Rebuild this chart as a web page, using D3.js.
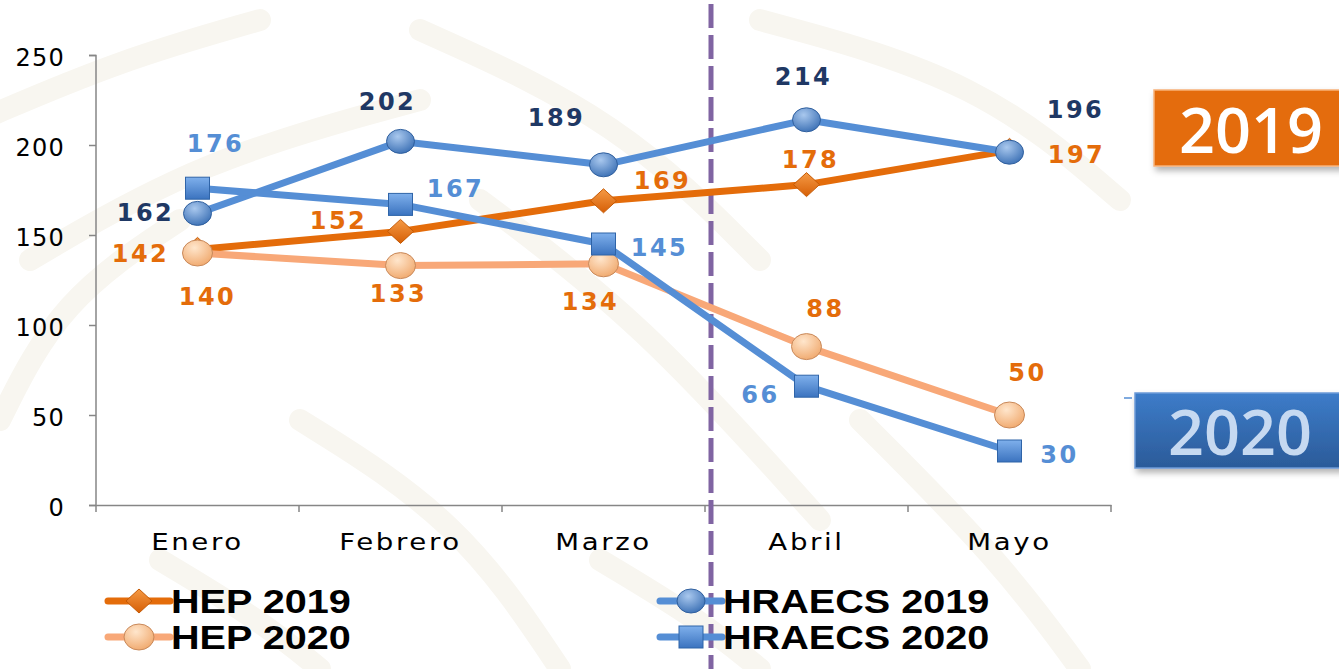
<!DOCTYPE html>
<html lang="es">
  <head>
    <meta charset="UTF-8" />
    <title>HEP / HRAECS 2019 vs 2020</title>
    <style>
      html, body { margin: 0; padding: 0; background: #ffffff; }
      svg { display: block; }
    </style>
    <script src="https://cdn.jsdelivr.net/npm/d3@7/dist/d3.min.js"></script>
  </head>
  <body>
    <script>
      const months = ["Enero", "Febrero", "Marzo", "Abril", "Mayo"];
      const hep2019 = [142, 152, 169, 178, 197];
      const hep2020 = [140, 133, 134, 88, 50];
      const hraecs2019 = [162, 202, 189, 214, 196];
      const hraecs2020 = [176, 167, 145, 66, 30];
      const yTicks = [0, 50, 100, 150, 200, 250];

      const W = 1339, H = 669;
      const svg = d3.select(document.body).append("svg")
        .attr("width", W).attr("height", H);
      const defs = svg.append("defs");

      // marker gradients
      const radial = (id, c0, c1) => {
        const g = defs.append("radialGradient").attr("id", id)
          .attr("cx", "40%").attr("cy", "30%").attr("r", "75%");
        g.append("stop").attr("offset", "0%").attr("stop-color", c0);
        g.append("stop").attr("offset", "100%").attr("stop-color", c1);
      };
      radial("gBlueBall", "#a9c8ee", "#3a6fb4");
      radial("gPeach", "#ffe6cc", "#f0a86c");
      const linear = (id, c0, c1) => {
        const g = defs.append("linearGradient").attr("id", id)
          .attr("x1", 0).attr("y1", 0).attr("x2", 0).attr("y2", 1);
        g.append("stop").attr("offset", "0%").attr("stop-color", c0);
        g.append("stop").attr("offset", "100%").attr("stop-color", c1);
      };
      linear("gSquare", "#7fb0ec", "#3b73bf");
      linear("gDiamond", "#f59a45", "#d65f06");
      linear("gBox2020", "#3d7cc9", "#2b5b99");
      const sh = defs.append("filter").attr("id", "shadow")
        .attr("x", "-10%").attr("y", "-10%").attr("width", "130%").attr("height", "140%");
      sh.append("feDropShadow").attr("dx", 2).attr("dy", 4)
        .attr("stdDeviation", 3).attr("flood-color", "#000").attr("flood-opacity", 0.3);

      // faint watermark strokes in the background
      const bg = svg.append("g").attr("fill", "none").attr("stroke", "#f8f6f0")
        .attr("stroke-linecap", "round");
      const wm = [
        [[-20, 120], [120, 60], [260, 20]], [[30, 260], [200, 160], [420, 100]],
        [[0, 420], [60, 300], [180, 220]], [[420, 30], [620, 120], [760, 260]],
        [[480, 200], [640, 320], [820, 520]], [[300, 420], [460, 520], [560, 669]],
        [[760, 20], [980, 80], [1120, 200]], [[860, 420], [1000, 560], [1080, 669]],
        [[160, 560], [260, 620], [320, 669]], [[600, 560], [700, 620], [760, 669]]
      ];
      bg.selectAll("path").data(wm).join("path")
        .attr("stroke-width", 22)
        .attr("d", d3.line().curve(d3.curveBasis));

      const x = d3.scaleBand().domain(months).range([96, 1111]);
      const cx = (m) => x(m) + x.bandwidth() / 2;
      const y = d3.scaleLinear().domain([0, 250]).range([505, 55]);

      // axes
      const axisCol = "#868686";
      const gy = svg.append("g").attr("transform", "translate(96,0)")
        .call(d3.axisLeft(y).tickValues(yTicks).tickSize(7).tickPadding(24));
      gy.select(".domain").attr("stroke", axisCol).attr("stroke-width", 1.5)
        .attr("d", "M-7,55.5H0V505.5H-7");
      gy.selectAll(".tick line").attr("stroke", axisCol).attr("stroke-width", 1.5);
      gy.selectAll(".tick text").attr("font-family", "DejaVu Sans")
        .attr("font-size", 24).attr("fill", "#000").attr("dy", "0.42em")
        .attr("letter-spacing", 1.2);

      const gx = svg.append("g").attr("transform", "translate(0,505)")
        .call(d3.axisBottom(x).tickSize(0).tickPadding(0));
      gx.select(".domain").attr("stroke", axisCol).attr("stroke-width", 1.5);
      gx.selectAll(".tick text").attr("font-family", "DejaVu Sans")
        .attr("font-size", 23).attr("fill", "#000").attr("letter-spacing", 2.2)
        .attr("y", 0).attr("dy", 0)
        .attr("transform", "translate(0,45) scale(1.2,1)");
      gx.selectAll(".xt").data(months.map((m) => x(m)).concat([1111]))
        .join("line").attr("class", "xt")
        .attr("x1", (d) => d).attr("x2", (d) => d)
        .attr("y1", 0).attr("y2", 7)
        .attr("stroke", axisCol).attr("stroke-width", 1.5);

      // dashed divider between Marzo and Abril
      svg.append("line")
        .attr("x1", 711).attr("x2", 711).attr("y1", 4).attr("y2", H)
        .attr("stroke", "#8064a2").attr("stroke-width", 5)
        .attr("stroke-dasharray", "24 7");

      const markers = {
        diamond: (g) => g.append("path").attr("d", "M0,-12L13,0L0,12L-13,0Z")
          .attr("fill", "url(#gDiamond)").attr("stroke", "#c55a05").attr("stroke-width", 1),
        peach: (g) => g.append("ellipse").attr("rx", 15).attr("ry", 13)
          .attr("fill", "url(#gPeach)").attr("stroke", "#c9895a").attr("stroke-width", 1),
        ball: (g) => g.append("ellipse").attr("rx", 14).attr("ry", 12)
          .attr("fill", "url(#gBlueBall)").attr("stroke", "#2f5f9e").attr("stroke-width", 1),
        square: (g) => g.append("rect").attr("x", -12).attr("y", -11)
          .attr("width", 24).attr("height", 22)
          .attr("fill", "url(#gSquare)").attr("stroke", "#2f64a8").attr("stroke-width", 1)
      };

      const series = [
        { name: "HEP 2019", values: hep2019, line: "#e46c0a", marker: "diamond", label: "#e46c0a",
          off: [[-57, 4], [-62, -11], [59, -20], [4, -25], [67, 4]] },
        { name: "HEP 2020", values: hep2020, line: "#f8a878", marker: "peach", label: "#e46c0a",
          off: [[10, 43], [-2, 28], [-13, 38], [19, -38], [18, -43]] },
        { name: "HRAECS 2019", values: hraecs2019, line: "#558ed5", marker: "ball", label: "#1f3864",
          off: [[-52, -1], [-13, -40], [-47, -47], [-3, -43], [66, -43]] },
        { name: "HRAECS 2020", values: hraecs2020, line: "#558ed5", marker: "square", label: "#558ed5",
          off: [[18, -45], [55, -16], [56, 3], [-46, 8], [50, 3]] }
      ];

      const lineGen = d3.line().x((d, i) => cx(months[i])).y((d) => y(d));
      const plot = svg.append("g");
      series.forEach((s) => {
        const g = plot.append("g");
        g.append("path").attr("d", lineGen(s.values)).attr("fill", "none")
          .attr("stroke", s.line).attr("stroke-width", 7).attr("stroke-linejoin", "round");
        g.selectAll("g.pt").data(s.values).join("g").attr("class", "pt")
          .attr("transform", (d, i) => `translate(${cx(months[i])},${y(d)})`)
          .each(function () { markers[s.marker](d3.select(this)); });
      });

      // data labels
      series.forEach((s) => {
        plot.append("g").selectAll("text").data(s.values).join("text")
          .attr("x", (d, i) => cx(months[i]) + s.off[i][0])
          .attr("y", (d, i) => y(d) + s.off[i][1])
          .attr("dy", "0.36em").attr("text-anchor", "middle")
          .attr("font-family", "DejaVu Sans").attr("font-weight", "bold")
          .attr("font-size", 24).attr("letter-spacing", 2.5)
          .attr("fill", s.label).text((d) => d);
      });

      // legend
      const legPos = [[108, 601], [108, 637], [660, 601], [660, 637]];
      const leg = svg.append("g");
      series.forEach((s, i) => {
        const [lx, ly] = legPos[i];
        const g = leg.append("g").attr("transform", `translate(${lx},${ly})`);
        g.append("line").attr("x1", 0).attr("x2", 62).attr("stroke", s.line)
          .attr("stroke-width", 7).attr("stroke-linecap", "round");
        markers[s.marker](g.append("g").attr("transform", "translate(31,0)"));
        g.append("text").attr("transform", "translate(63,12) scale(1.2,1)")
          .attr("font-family", "Liberation Sans").attr("font-weight", "bold")
          .attr("font-size", 33).attr("fill", "#000").text(s.name);
      });

      // year tags on the right
      const tag2019 = svg.append("g").attr("filter", "url(#shadow)");
      tag2019.append("rect").attr("x", 1154).attr("y", 90).attr("width", 200).attr("height", 76)
        .attr("fill", "#e46c0a").attr("stroke", "#f7b27a").attr("stroke-width", 1.5);
      svg.append("text").attr("x", 1251).attr("y", 153).attr("text-anchor", "middle")
        .attr("font-family", "Open Sans").attr("font-weight", 600)
        .attr("font-size", 63).attr("fill", "#ffffff")
        .text("2019");
      const tag2020 = svg.append("g").attr("filter", "url(#shadow)");
      tag2020.append("rect").attr("x", 1135).attr("y", 393).attr("width", 220).attr("height", 75)
        .attr("fill", "url(#gBox2020)").attr("stroke", "#6c9bd8").attr("stroke-width", 1.5);
      svg.append("text").attr("x", 1240).attr("y", 455).attr("text-anchor", "middle")
        .attr("font-family", "Open Sans").attr("font-weight", 600)
        .attr("font-size", 63).attr("fill", "#c6d9f1")
        .text("2020");
      svg.append("line").attr("x1", 1124).attr("x2", 1132).attr("y1", 398).attr("y2", 398)
        .attr("stroke", "#558ed5").attr("stroke-width", 1.5);
    </script>
  </body>
</html>
